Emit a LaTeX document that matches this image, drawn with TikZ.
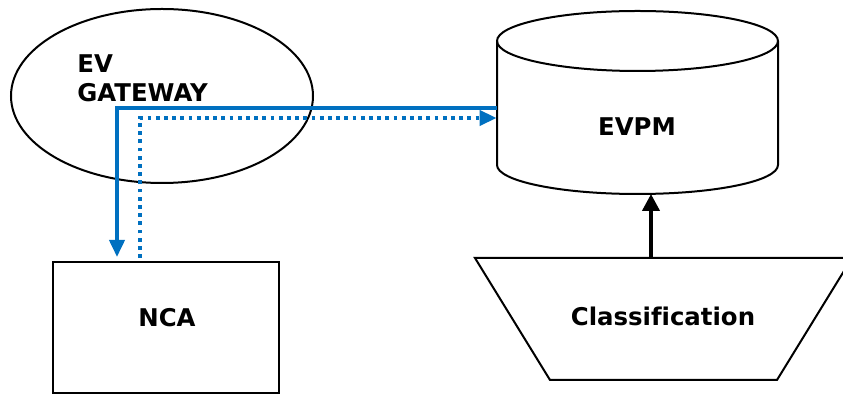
\documentclass[tikz,border=0pt]{standalone}
\usepackage{fontspec}
\setmainfont[Ligatures=NoCommon]{DejaVu Sans}
\usetikzlibrary{shapes.geometric,arrows.meta,calc}
\definecolor{linkblue}{HTML}{0070C0}
\begin{document}
\begin{tikzpicture}[x=0.5pt,y=-0.5pt,
  lbl/.style={font=\fontsize{12.2}{14}\selectfont\bfseries, inner sep=0pt},
  shapeline/.style={draw=black, line width=1pt},
  blueflow/.style={draw=linkblue, line width=1.9pt},
  blueflowdot/.style={draw=linkblue, line width=1.9pt, dash pattern=on 1.9pt off 2.2pt},
  bluetip/.style={-{Triangle[width=7.5pt,length=8.5pt]}},
  blacktip/.style={-{Triangle[width=8.5pt,length=8.5pt]}}
]
\useasboundingbox (0,0) rectangle (843,394);
% EV gateway
\node[ellipse, shapeline, minimum width=151pt, minimum height=87pt, inner sep=0pt] (gw) at (162,96) {};
\node[lbl, anchor=base west] (gwa) at (77,73) {EV};
\node[lbl, anchor=base west] (gwb) at (77,102) {GATEWAY};
% NCA
\node[rectangle, shapeline, minimum width=113pt, minimum height=65.5pt, inner sep=0pt] (nca) at (166,327.5) {};
\node[lbl] (ncat) at (167,318) {NCA};
% EVPM cylinder
\draw[shapeline, fill=white] (497,41) -- (497,165)
  arc[start angle=180, end angle=360, x radius=70.25pt, y radius=14.5pt]
  -- (778,41)
  arc[start angle=0, end angle=180, x radius=70.25pt, y radius=15pt] -- cycle;
\draw[shapeline] (497,41) arc[start angle=180, end angle=360, x radius=70.25pt, y radius=15pt];
\node[minimum width=140.5pt, minimum height=62pt, inner sep=0pt] (evpmbody) at (637.5,103) {};
\node[lbl] (evpm) at (637,127) {EVPM};
\coordinate (evbot) at (651,194);
% Classification trapezoid
\draw[shapeline] (475,258) -- (852,258) -- (777,380) -- (550,380) -- cycle;
\node[lbl] (cls) at (663,316) {Classification};
\coordinate (clstop) at (651,258);
% connectors
\draw[line width=2pt, blacktip] (clstop) -- (evbot);
\draw[blueflow, bluetip] ($(evpmbody.west)+(0,5)$) -| ($(nca.north)+(-49,-4)$);
\draw[blueflowdot, bluetip] ($(nca.north)+(-26,-3)$) |- ($(evpmbody.west)+(0,15)$);
\end{tikzpicture}
\end{document}
